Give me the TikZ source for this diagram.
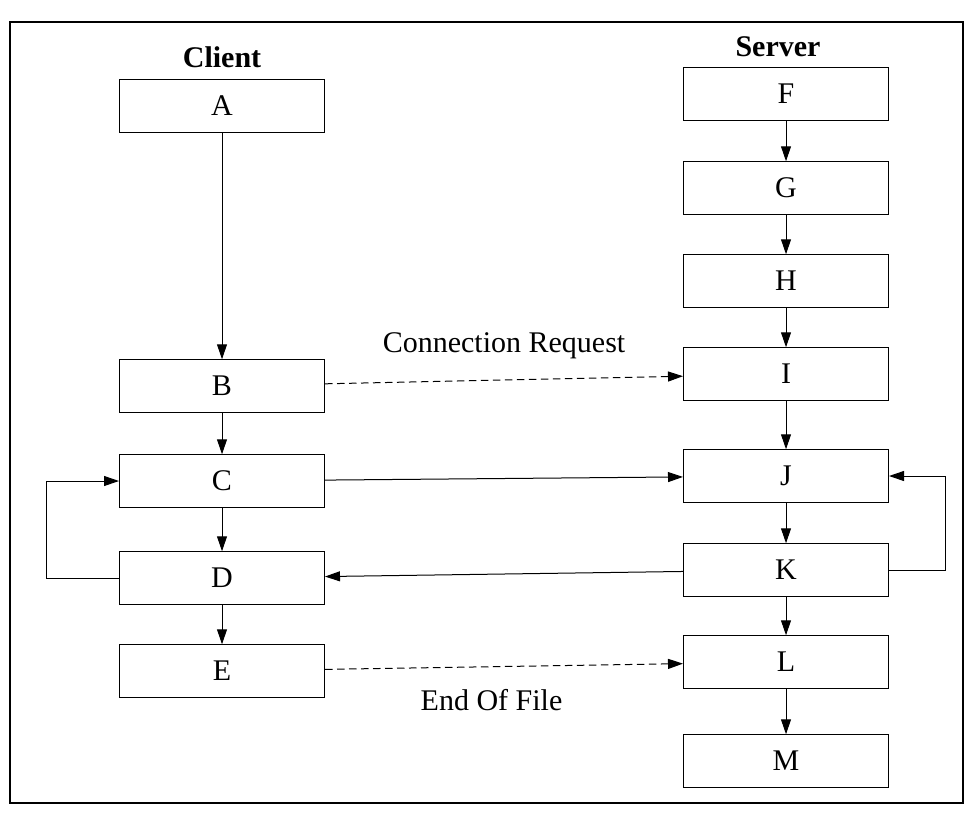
\documentclass[tikz,border=0pt]{standalone}
\usepackage{fontspec}
\setmainfont{Liberation Serif}
\usetikzlibrary{arrows.meta}
\tikzset{>={Triangle[length=6pt,width=4pt]},line width=.55pt,
  every node/.style={font=\fontsize{12}{14}\selectfont},
  block/.style={draw,minimum width=82pt,minimum height=21pt,inner sep=0pt},
  title/.style={font=\fontsize{12}{14}\selectfont\bfseries},
  flow/.style={->},
  msg/.style={->,dash pattern=on 3pt off 1.8pt}}
\begin{document}
\begin{tikzpicture}[x=.4pt,y=-.4pt]
\useasboundingbox (0,0) rectangle (971,820);
\draw[line width=1pt] (10,22) rectangle (963,803);
\node[title] (client) at (222,57) {Client};\node[title] (server) at (778,47) {Server};
\foreach \n/\y in {A/106,B/386,C/481,D/578,E/671} {\node[block] (\n) at (222,\y) {\n};}
\foreach \n/\y in {F/94,G/188,H/281,I/374,J/476,K/570,L/662,M/761} {\node[block] (\n) at (786,\y) {\n};}
\foreach \u/\v in {A/B,B/C,C/D,D/E,F/G,G/H,H/I,I/J,J/K,K/L,L/M} {\draw[flow] (\u)--(\v);}
\draw[msg] (B)--node[midway,yshift=13.6pt] (req) {Connection Request}(I);
\draw[msg] (E)--node[midway,yshift=-13.6pt,xshift=-5pt] (eof) {End Of File}(L);
\draw[flow] (C)--(J);\draw[flow] (K)--(D);
\draw[flow] (D.west)--++(-72,0)|-(C.west);
\draw[flow] (K.east)--++(56,0)|-(J.east);
\end{tikzpicture}
\end{document}
